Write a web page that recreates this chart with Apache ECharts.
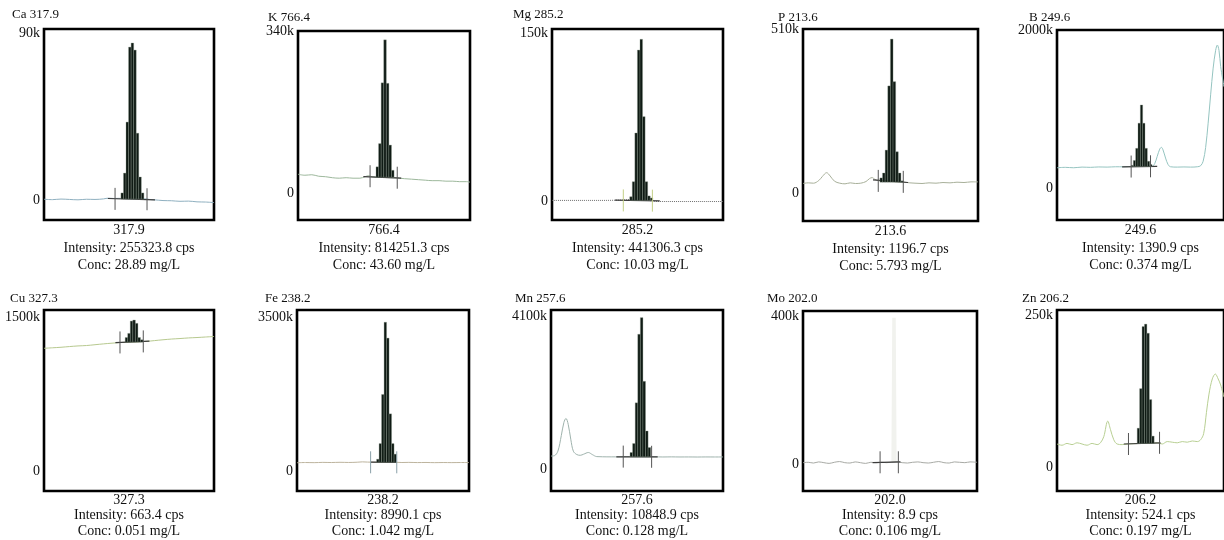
<!DOCTYPE html>
<html><head><meta charset="utf-8">
<script src="https://cdn.jsdelivr.net/npm/echarts@6/dist/echarts.min.js"></script>
<style>html,body{margin:0;padding:0;background:#fff}#c{width:1224px;height:540px}</style>
</head><body><div id="c"></div>
<script>
// ---------------- DATA ----------------
const elements = ['Ca','K','Mg','P','B','Cu','Fe','Mn','Mo','Zn'];
const wavelengths = ['317.9','766.4','285.2','213.6','249.6','327.3','238.2','257.6','202.0','206.2'];
const intensities = ['255323.8','814251.3','441306.3','1196.7','1390.9','663.4','8990.1','10848.9','8.9','524.1'];
const concentrations = ['28.89','43.60','10.03','5.793','0.374','0.051','1.042','0.128','0.106','0.197'];
const yTopLabels = ['90k','340k','150k','510k','2000k','1500k','3500k','4100k','400k','250k'];
const yTopValues = [90,340,150,510,2000,1500,3500,4100,400,250];   // in k counts

// spectrum traces [position, intensity(k)]
const caLine = [[0,0.4],[5,0.2],[10,0.5],[15,0.3],[20,0.1],[25,0.4],[30,0.3],[35,0.6],[38,1.0],[41,0.8],[44,0.9],[47,0.7],[52,0.6],[57,0.6],[60,0.6],[62,0.3],[65,0.1],[70,-0.3],[75,-0.4],[80,-0.7],[85,-0.6],[90,-1.0],[95,-1.1],[100,-1.4]];
const kLine = [[0,38],[4,36],[8,37],[12,34],[16,33],[20,31],[24,30],[28,31],[32,30],[36,30],[39,33],[41,35],[43,33],[48,32],[54,31],[57,31],[59,30],[62,29],[66,28],[70,27],[74,26],[78,25],[82,25],[86,24],[90,24],[94,23],[98,23],[100,22]];
const mgLine = [[0,0.5],[10,0.5],[20,0.5],[30,0.5],[38,0.7],[42,0.9],[45,1.2],[52,0.8],[58,0.2],[60,-0.3],[70,-0.5],[80,-0.5],[90,-0.5],[100,-0.5]];
const pLine = [[0,29],[3,31],[6,30],[9,38],[11,50],[13.5,62],[15.5,52],[18,36],[21,30],[24,28],[27,31],[30,29],[33,30],[36,35],[38,44],[39.5,47],[41,42],[43,38],[50,35],[58,33],[61,31],[64,30],[68,29],[72,31],[76,30],[80,32],[84,31],[88,33],[92,32],[96,34],[100,34]];
const bLine = [[0,250],[5,255],[10,250],[15,258],[20,255],[25,260],[30,258],[35,262],[40,262],[43,265],[50,266],[57,270],[58.5,300],[60,390],[61.5,480],[62.5,502],[63.5,470],[65,370],[66.5,290],[68,262],[72,258],[76,260],[80,258],[84,262],[86,275],[87.5,330],[89,500],[90.5,800],[92,1150],[93.5,1480],[95,1700],[96,1765],[97,1700],[98,1500],[100,1250]];
const cuLine = [[0,1195],[5,1200],[10,1205],[15,1212],[20,1218],[25,1222],[30,1230],[35,1238],[40,1245],[44,1250],[52,1256],[60,1262],[65,1270],[70,1278],[75,1285],[80,1290],[85,1296],[90,1300],[95,1305],[100,1310]];
const feLine = [[0,190],[5,195],[10,192],[15,198],[20,195],[25,200],[30,196],[35,202],[38,210],[41,205],[50,200],[58,200],[61,195],[65,198],[70,194],[75,196],[80,192],[85,195],[90,193],[95,195],[100,194]];
const mnLine = [[0,350],[2,360],[4,480],[6,900],[7.5,1250],[8.7,1358],[10,1200],[11.5,800],[13,480],[15,390],[17,370],[19,400],[21.7,445],[24,390],[26.6,335],[30,330],[35,328],[40,330],[44,335],[52,332],[60,330],[65,325],[70,328],[75,325],[80,326],[85,324],[90,326],[95,325],[100,326]];
const moLine = [[0,4],[3,5],[6,3],[9,6],[12,4],[15,2],[18,5],[21,7],[24,4],[27,3],[30,6],[33,4],[36,2],[39,5],[42,4],[45,5],[48,4],[51,5],[54,6],[57,4],[60,3],[63,5],[66,6],[69,4],[72,3],[75,5],[78,7],[81,4],[84,3],[87,6],[90,5],[93,4],[96,6],[100,5]];
const moSpike = [[51.8,5],[52.3,395],[52.8,5]];
const znLine = [[0,38],[3,36],[6,39],[9,37],[12,40],[15,38],[18,36],[21,39],[24,37],[26,40],[28,50],[30.4,75.6],[32,62],[34,45],[36,38],[39,37],[42,38],[50,39],[60,40],[63,38],[66,42],[69,41],[72,40],[75,42],[78,41],[81,43],[84,42],[86,45],[87.8,55],[89.5,90],[91,120],[93,145],[94.8,153],[96.5,145],[98,135],[100,115]];

// integration bars [position, top intensity(k)]
const caBars = [[46,3.8],[47.5,14.5],[49,42],[50.5,82.4],[52,84.6],[53.5,80.8],[55,36],[56.5,12.4],[58,3.8]];
const kBars = [[46.1,53],[47.6,100],[49.1,223],[50.6,310],[52.1,222],[53.6,97],[55.1,46]];
const mgBars = [[46.2,3.8],[47.7,17.2],[49.2,60.7],[50.7,134.8],[52.2,144.4],[53.7,75.3],[55.2,17.2],[56.7,4.5],[58.2,2.7]];
const pBars = [[44.7,46],[46.2,61],[47.7,131],[49.2,327],[50.7,470],[52.2,340],[53.7,126],[55.2,61],[56.7,37]];
const bBars = [[45.0,280],[46.4,340],[47.8,490],[49.2,800],[50.6,1025],[52.0,800],[53.4,490],[54.8,330],[56.2,290]];
const cuBars = [[48.5,1300],[50,1340],[51.5,1460],[53,1470],[54.5,1438],[56,1300],[57.5,1278]];
const feBars = [[47.0,270],[48.45,625],[49.9,1740],[51.35,3380],[52.8,3020],[54.25,1300],[55.7,625],[57.15,385]];
const mnBars = [[46.7,445],[48.2,685],[49.7,1775],[51.2,3610],[52.7,4055],[54.2,2350],[55.7,1020],[57.2,578]];
const moBars = [];
const znBars = [[48.75,64],[50.2,129],[51.65,231],[53.1,235],[54.55,220],[56.0,111],[57.45,51]];

const barBase = [0.5, 32, 0.5, 33, 265, 1255, 200, 330, 5, 39];
const barStep = [1.5, 1.5, 1.5, 1.5, 1.4, 1.5, 1.45, 1.5, 1.5, 1.45];

// integration window markers [position, level(k)]
const windows = [
  [[41.8,0.6],[60.6,0.4]], [[41.9,34],[57.7,31]], [[41.7,0.5],[58.7,0.3]], [[43.0,37],[57.3,34]], [[44.4,265],[56.0,268]],
  [[44.7,1252],[58.4,1262]], [[42.8,200],[58.0,200]], [[42.0,335],[58.5,330]], [[44.3,5],[54.8,5]], [[42.8,38],[61.4,40]]
];
const baseSegs = [
  [[37.6,0.8],[65.3,0.1]], [[38,33],[60,30]], [[36.8,0.7],[63,0]], [[40,40],[60,32]], [[39,262],[60,266]],
  [[42,1250],[62,1265]], [[43,202],[58,200]], [[38,330],[62,330]], [[40,4],[56,6]], [[40,38],[62,40]]
];

const lines = [caLine,kLine,mgLine,pLine,bLine,cuLine,feLine,mnLine,moLine,znLine];
const bars = [caBars,kBars,mgBars,pBars,bBars,cuBars,feBars,mnBars,moBars,znBars];
const axisRange = [[-10.78,92.16],[-54.6,327.9],[-17.0,153.6],[-85.5,500.8],[-395,1950.6],
                   [-194.8,1568],[-451.6,3658],[-585.7,4259.7],[-72.5,413.4],[-39.2,258.2]];

// ---------------- LAYOUT / STYLE ----------------
const boxes = [[44,29,170,191],[298,31,172,189],[552,29,171,191],[803,29,175,192],[1057,30,172,190],
               [44,310,170,181],[297,310,172,182],[551,310,172,182],[803,311,174,181],[1057,310,172,182]];
const titlePos = [[12,8],[268,11],[513,8],[778,11],[1029,11],[10,292],[265,292],[515,292],[767,292],[1022,292]];
const lineColors = ['#8fb0c0','#9db89c','#6f6f6f','#a8b09a','#95c4c0','#b7c98f','#bdb49e','#9fb3ad','#a8aaa5','#b8cf93'];
const markerColors = ['#555','#555','#c2cf86','#555','#555','#555','#8aa0a8','#555','#555','#555'];
const FONT = '"Liberation Serif","Times New Roman",serif';

const grid = [], xAxis = [], yAxis = [], title = [], series = [];
for (let i = 0; i < 10; i++) {
  const b = boxes[i];
  const row2 = i >= 5;
  grid.push({left:b[0], top:b[1], width:b[2], height:b[3], show:true, borderColor:'#000', borderWidth:2.6, backgroundColor:'transparent'});
  title.push({text: elements[i] + ' ' + wavelengths[i], left:titlePos[i][0], top:titlePos[i][1], padding:0,
    textStyle:{fontFamily:FONT, fontSize:13, fontWeight:'normal', color:'#111'}});
  xAxis.push({type:'value', gridIndex:i, min:0, max:100, axisLine:{show:false}, axisTick:{show:false},
    axisLabel:{show:false}, splitLine:{show:false},
    name: wavelengths[i] + '\nIntensity: ' + intensities[i] + ' cps\nConc: ' + concentrations[i] + ' mg/L',
    nameLocation:'middle', nameGap: row2 ? 1.5 : 2,
    nameTextStyle:{fontFamily:FONT, fontSize:14, color:'#111', lineHeight: row2 ? 15.5 : 17.5, align:'center', verticalAlign:'top'}});
  const rng = axisRange[i];
  const topVal = Math.min(yTopValues[i], rng[1]);
  const lab = yTopLabels[i];
  yAxis.push({type:'value', gridIndex:i, min:rng[0], max:rng[1], axisLine:{show:false},
    axisTick:{show:false}, splitLine:{show:false},
    axisLabel:{customValues:[0, topVal], margin:4, fontFamily:FONT, fontSize:14, color:'#111',
      formatter: v => (v === 0 ? '0' : lab)}});

  series.push({type:'line', xAxisIndex:i, yAxisIndex:i, data:lines[i], smooth:0.35, symbol:'none', silent:true,
    lineStyle:{color:lineColors[i], width:1, type: i === 2 ? 'dotted' : 'solid'}, z:2});
  if (i === 8) {
    series.push({type:'line', xAxisIndex:i, yAxisIndex:i, data:moSpike, symbol:'none', silent:true,
      lineStyle:{color:'#f1f2ee', width:3.5}, z:1});
  }
  series.push({type:'line', xAxisIndex:i, yAxisIndex:i, data:baseSegs[i], symbol:'none', silent:true,
    lineStyle:{color:'#3a3a3a', width:1.2}, z:3});
  const base = barBase[i], step = barStep[i];
  series.push({type:'custom', xAxisIndex:i, yAxisIndex:i, data:bars[i], silent:true, z:4,
    renderItem:(params, api) => {
      const x = api.value(0), top = api.value(1);
      const p1 = api.coord([x - step/2, top]);
      const p2 = api.coord([x + step/2, base]);
      return {type:'rect', shape:{x:p1[0], y:p1[1], width:p2[0]-p1[0], height:p2[1]-p1[1]},
        style:{fill:'#0f1a14', stroke:'#8a9a8c', lineWidth:0.35}};
    }});
  const mc = markerColors[i];
  series.push({type:'custom', xAxisIndex:i, yAxisIndex:i, data:windows[i], silent:true, z:5,
    renderItem:(params, api) => {
      const p = api.coord([api.value(0), api.value(1)]);
      return {type:'line', shape:{x1:p[0], y1:p[1]-11, x2:p[0], y2:p[1]+11}, style:{stroke:mc, lineWidth:1}};
    }});
}

const chart = echarts.init(document.getElementById('c'), null, {renderer:'canvas'});
chart.setOption({animation:false, backgroundColor:'#fff', title, grid, xAxis, yAxis, series});
</script></body></html>
